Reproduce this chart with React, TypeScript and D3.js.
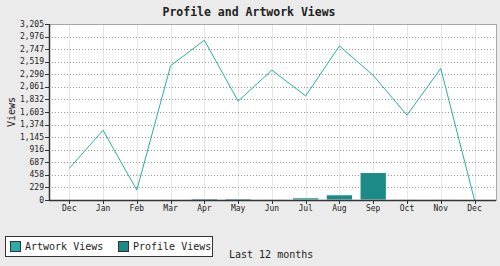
import React from "react";
import * as d3 from "d3";

const categories = ["Dec", "Jan", "Feb", "Mar", "Apr", "May", "Jun", "Jul", "Aug", "Sep", "Oct", "Nov", "Dec "];
const artworkViews = [575, 1270, 180, 2445, 2910, 1800, 2365, 1895, 2805, 2270, 1545, 2395, 0];
const profileViews = [0, 0, 0, 0, 28, 28, 4, 40, 95, 500, 3, 3, 0];
const yTickValues = [0, 229, 458, 687, 916, 1145, 1374, 1603, 1832, 2061, 2290, 2519, 2747, 2976, 3205];
const yTickLabels = ["0", "229", "458", "687", "916", "1,145", "1,374", "1,603", "1,832", "2,061", "2,290", "2,519", "2,747", "2,976", "3,205"];
const yMax = 3205;
const title = "Profile and Artwork Views";
const xTitle = "Last 12 months";
const yTitle = "Views";
const seriesNames = ["Artwork Views", "Profile Views"];

const W = 500;
const H = 266;
const plot = { left: 49, right: 496, top: 24, bottom: 200 };
const lineColor = "#2aaea9";
const barColor = "#1c8a87";
const font = "'DejaVu Sans Mono', monospace";

export default function App() {
  const x = d3
    .scaleBand<string>()
    .domain(categories)
    .range([52.4, 491.4])
    .paddingInner(0.22)
    .paddingOuter(0.11);
  const cx = (c: string) => (x(c) as number) + x.bandwidth() / 2;
  const y = d3.scaleLinear().domain([0, yMax]).range([plot.bottom, plot.top]);

  const line = d3
    .line<number>()
    .x((_, i) => cx(categories[i]))
    .y((d) => y(d));

  return (
    <svg
      width={W}
      height={H}
      style={{ position: "absolute", left: 0, top: 0, display: "block" }}
      fontFamily={font}
    >
      <rect x={0} y={0} width={W} height={H} fill="#ebebeb" />
      <rect
        x={plot.left}
        y={plot.top}
        width={plot.right - plot.left}
        height={plot.bottom - plot.top}
        fill="#ffffff"
        stroke="#a8a8a8"
        strokeWidth={1}
        shapeRendering="crispEdges"
      />
      {categories.map((c, i) => (
        <line
          key={"vg" + i}
          x1={Math.round(cx(c)) + 0.5}
          x2={Math.round(cx(c)) + 0.5}
          y1={plot.top + 1}
          y2={plot.bottom}
          stroke="#e6e6e6"
          strokeWidth={1}
        />
      ))}
      {yTickValues.slice(1, -1).map((v, i) => (
        <line
          key={"hg" + i}
          x1={plot.left + 3}
          x2={plot.right}
          y1={Math.round(y(v)) + 0.5}
          y2={Math.round(y(v)) + 0.5}
          stroke="#999999"
          strokeWidth={1}
          strokeDasharray="1,2"
        />
      ))}
      {profileViews.map((v, i) => (
        <rect
          key={"b" + i}
          x={x(categories[i]) as number}
          y={y(v)}
          width={x.bandwidth()}
          height={plot.bottom - y(v)}
          fill={barColor}
          stroke="#ffffff"
          strokeWidth={1}
        />
      ))}
      <path d={line(artworkViews) || ""} fill="none" stroke={lineColor} strokeWidth={1} />
      <line x1={plot.left + 0.5} x2={plot.left + 0.5} y1={plot.top} y2={plot.bottom + 1} stroke="#333" strokeWidth={1.5} />
      <line x1={plot.left} x2={plot.right} y1={plot.bottom + 0.5} y2={plot.bottom + 0.5} stroke="#333" strokeWidth={1.5} />
      {yTickValues.map((v, i) => (
        <g key={"yt" + i}>
          <line
            x1={plot.left - 4}
            x2={plot.left}
            y1={Math.round(y(v)) + 0.5}
            y2={Math.round(y(v)) + 0.5}
            stroke="#333"
          />
          <text x={plot.left - 5} y={y(v)} dy="0.33em" textAnchor="end" fontSize={8} fill="#222">
            {yTickLabels[i]}
          </text>
        </g>
      ))}
      {categories.map((c, i) => (
        <g key={"xt" + i}>
          <line
            x1={Math.round(cx(c)) + 0.5}
            x2={Math.round(cx(c)) + 0.5}
            y1={plot.bottom}
            y2={plot.bottom + 4}
            stroke="#333"
          />
          <text x={cx(c)} y={211} textAnchor="middle" fontSize={8} fill="#222">
            {c.trim()}
          </text>
        </g>
      ))}
      <text x={249} y={16} textAnchor="middle" fontSize={11.5} fontWeight="bold" fill="#222">
        {title}
      </text>
      <text
        transform={`translate(15, ${(plot.top + plot.bottom) / 2}) rotate(-90)`}
        textAnchor="middle"
        fontSize={10}
        fill="#222"
      >
        {yTitle}
      </text>
      <text x={229} y={258} fontSize={10} fill="#222">
        {xTitle}
      </text>
      <rect x={5.5} y={236.5} width={207} height={20} fill="#ffffff" stroke="#333" strokeWidth={1} />
      <rect x={10.5} y={241.5} width={10} height={10} fill={lineColor} stroke="#333" strokeWidth={1} />
      <text x={25} y={250} fontSize={10} fill="#222">
        {seriesNames[0]}
      </text>
      <rect x={118.5} y={241.5} width={10} height={10} fill={barColor} stroke="#333" strokeWidth={1} />
      <text x={133} y={250} fontSize={10} fill="#222">
        {seriesNames[1]}
      </text>
    </svg>
  );
}
